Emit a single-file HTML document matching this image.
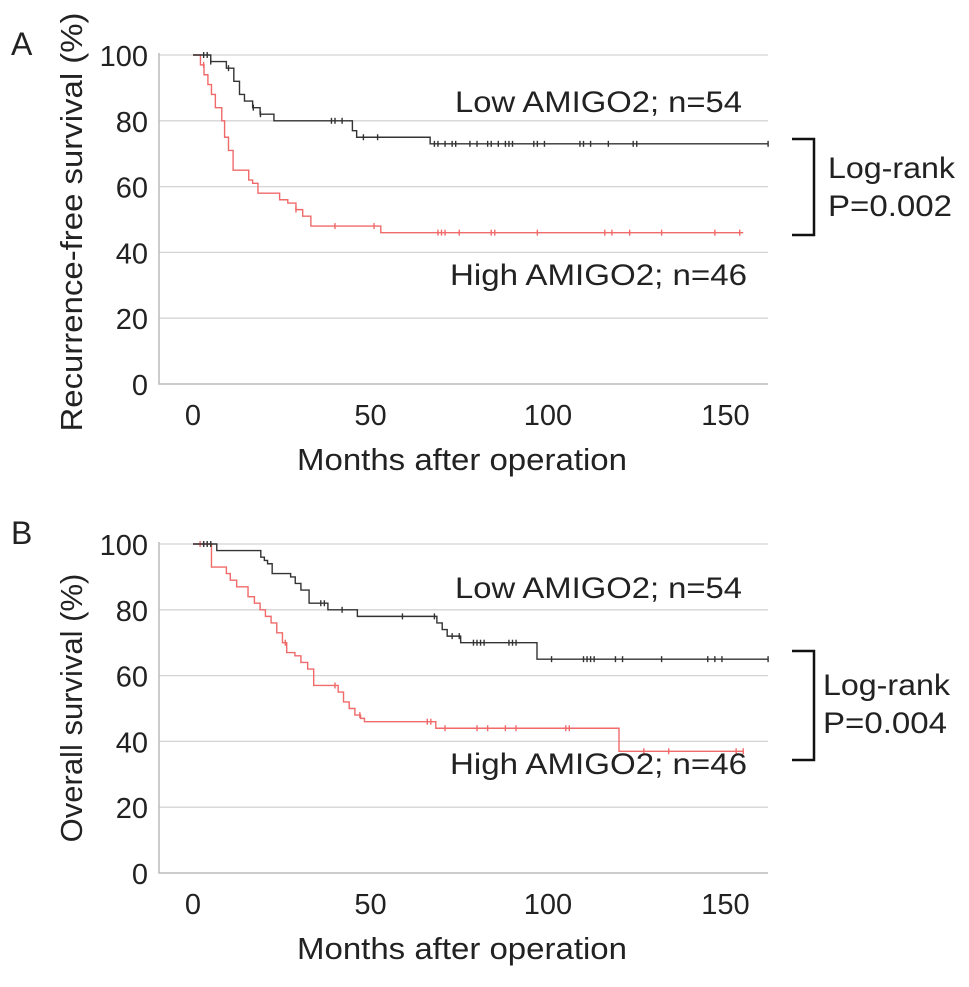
<!DOCTYPE html>
<html><head><meta charset="utf-8"><style>
body{margin:0;background:#fff;}
svg text{font-family:"Liberation Sans",sans-serif;fill:#222;}
</style></head><body>
<svg id="chart" width="969" height="982" xmlns="http://www.w3.org/2000/svg"></svg>
<script>
const xTicks=[0,50,100,150];
const yTicks=[0,20,40,60,80,100];
// Panel A step data [month, survival%]
const aLowT=[0,5,9.4,11.5,13.1,14.5,16.8,18.9,22.8,44.9,46.1,66.8,162];
const aLowS=[100,98,96,92,88,86,84,82,80,77,75,73,73];
const aLowC=[3,4,5,10,17,19,39,40,42,48,52,68,69,71,73,74,78,80,83,84,86,88,89,90,96,97,99,109,110,112,117,124,125,162];
const aHighT=[0,2.1,3.1,4.2,5.2,6.3,8.1,8.9,10,11.3,15.7,16.8,18.3,24.4,26.7,29,30.9,33.2,52.9,155];
const aHighS=[100,97,94,91,88,84,80,75,71,65,62,61,58,56,55,53,51,48,46,46];
const aHighC=[3,29,40,51,69,70,71,75,84,85,97,116,118,123,132,147,154];
// Panel B
const bLowT=[0,6.7,19.1,20.1,21,22.3,27.5,28.8,30.4,32.7,38,46.3,68.7,70.2,71.6,75.4,96.9,162];
const bLowS=[100,98,96,95,94,91,90,88,86,82,80,78,76,74,72,70,65,65];
const bLowC=[3,4,5,36,37,42,59,68,73,75,79,80,81,82,89,90,91,101,110,111,112,113,119,121,132,145,147,149,162];
const bHighT=[0,5.2,9.4,10.5,12.3,15.5,17.3,18.9,20.4,22,23.6,25.2,26.4,28.7,30.4,32.3,34,40.9,42.4,44,45.6,47.2,48.3,68.4,120,155];
const bHighS=[100,93,91,89,87,84,82,80,78,76,73,70,67,66,64,62,57,55,52,50,48,47,46,44,37,37];
const bHighC=[2,3,26,40,47,66,67,71,80,83,88,91,105,106,127,134,153,155];

const NS='http://www.w3.org/2000/svg';
const svg=document.getElementById('chart');
function el(tag,attrs,parent){const e=document.createElementNS(NS,tag);for(const k in attrs)e.setAttribute(k,attrs[k]);(parent||svg).appendChild(e);return e;}

function panel(p){
  const x=m=>193+m*3.55;
  const y=v=>p.y0-v*3.29;
  const g=el('g',{});
  
  
  yTicks.forEach(t=>{
    if(t>0){const l=el('line',{x1:159,x2:768,y1:y(t),y2:y(t),stroke:'#d4d4d4','stroke-width':1.3},g);
      }
    const tx=el('text',{x:148,y:y(t)+11,'font-size':29,'text-anchor':'end'},g);tx.textContent=t;
    
  });
  const ax=el('path',{d:`M159 ${y(100)-2} V${y(0)} H768`,fill:'none',stroke:'#bbb','stroke-width':1.5},g);
  
  xTicks.forEach(t=>{const tx=el('text',{x:x(t),y:y(0)+41,'font-size':29,'text-anchor':'middle'},g);tx.textContent=t;
    });
  function curve(T,S,C,col,nm){
    let d=`M${x(T[0])} ${y(S[0])}`;
    for(let i=1;i<T.length;i++){d+=` H${x(T[i])} V${y(S[i])}`;}
    const pth=el('path',{d,fill:'none',stroke:col,'stroke-width':1.4},g);
    
    C.forEach(c=>{let s=S[0];for(let i=0;i<T.length;i++){if(T[i]<=c)s=S[i];}
      const m=el('line',{x1:x(c),x2:x(c),y1:y(s)-3,y2:y(s)+3,stroke:col,'stroke-width':1.4},g);
      });
  }
  curve(p.hT,p.hS,p.hC,'#f06a6a','high-amigo2-curve');
  curve(p.lT,p.lS,p.lC,'#333','low-amigo2-curve');
  const lt=el('text',{x:455,y:p.lowY,'font-size':30,textLength:287,lengthAdjust:'spacingAndGlyphs'},g);lt.textContent='Low AMIGO2; n=54';
  
  const ht=el('text',{x:450,y:p.highY,'font-size':30,textLength:297,lengthAdjust:'spacingAndGlyphs'},g);ht.textContent='High AMIGO2; n=46';
  
  const br=el('path',{d:`M792 ${p.bt} H814 V${p.bb} H792`,fill:'none',stroke:'#111','stroke-width':2.5},g);
  
  const t1=el('text',{x:p.tx,y:p.tb,'font-size':30,textLength:127,lengthAdjust:'spacingAndGlyphs'},g);t1.textContent='Log-rank';
  
  const t2=el('text',{x:p.tx,y:p.tb+38,'font-size':30,textLength:124,lengthAdjust:'spacingAndGlyphs'},g);t2.textContent=p.pv;
  
  const ya={x:0,y:0,'font-size':31,'text-anchor':'middle',transform:`translate(82 ${p.yc}) rotate(-90)`};
  if(p.ylen){ya.textLength=p.ylen;ya.lengthAdjust='spacingAndGlyphs';}
  const yt=el('text',ya,g);yt.textContent=p.ytitle;
  
  const xt=el('text',{x:462,y:y(0)+86,'font-size':31,'text-anchor':'middle',textLength:330,lengthAdjust:'spacingAndGlyphs'},g);xt.textContent='Months after operation';
  
  const pl=el('text',{x:11,y:p.y0-329,'font-size':32},g);pl.textContent=p.letter;
  
}
panel({name:'panel-a',y0:384,lT:aLowT,lS:aLowS,lC:aLowC,hT:aHighT,hS:aHighS,hC:aHighC,lowY:112,highY:285,bt:139,bb:235,tx:828,tb:178,pv:'P=0.002',ytitle:'Recurrence-free survival (%)',yc:222,ylen:419,letter:'A'});
panel({name:'panel-b',y0:873,lT:bLowT,lS:bLowS,lC:bLowC,hT:bHighT,hS:bHighS,hC:bHighC,lowY:598,highY:774,bt:651,bb:760,tx:823,tb:695,pv:'P=0.004',ytitle:'Overall survival (%)',yc:708,ylen:0,letter:'B'});
</script>
</body></html>
